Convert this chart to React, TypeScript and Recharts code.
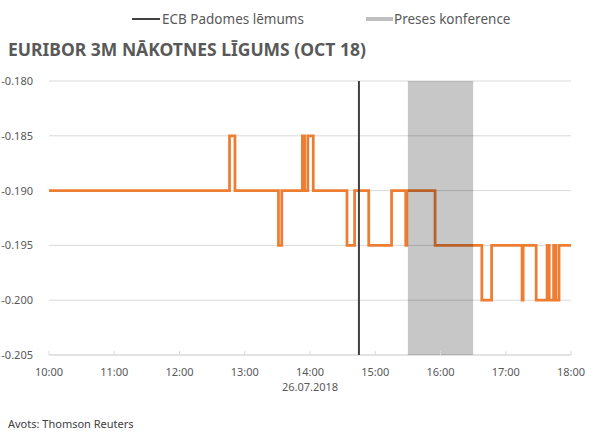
import {
  CartesianGrid,
  Line,
  LineChart,
  ReferenceArea,
  ReferenceLine,
  XAxis,
  YAxis,
} from "recharts";

// minutes after 10:00, value at that moment (step series)
const minutes = [
  0, 166, 171, 211, 214, 233, 235, 238, 243, 274, 281, 294, 315, 328, 329,
  355, 398, 407, 435, 436, 448, 458, 460, 464, 466, 469, 480,
];
const prices = [
  -0.19, -0.185, -0.19, -0.195, -0.19, -0.185, -0.19, -0.185, -0.19, -0.195,
  -0.19, -0.195, -0.19, -0.195, -0.19, -0.195, -0.2, -0.195, -0.2, -0.195,
  -0.2, -0.195, -0.2, -0.195, -0.2, -0.195, -0.195,
];

const xTicks = [0, 60, 120, 180, 240, 300, 360, 420, 480];
const yTicks = [-0.205, -0.2, -0.195, -0.19, -0.185, -0.18];

const ecbDecision = 285; // 14:45
const pressStart = 330; // 15:30
const pressEnd = 390; // 16:30

const rows = minutes.map((m, i) => ({ t: m, v: prices[i] }));

const FONT = "'Noto Sans', sans-serif";
const LABEL = "#595959";

const fmtTime = (m: number) => `${10 + Math.floor(m / 60)}:00`;

function TimeTick(props: any) {
  const { x, y, payload } = props;
  return (
    <g>
      <line x1={x} x2={x} y1={y - 4} y2={y} stroke="#d9d9d9" />
      <text x={x} y={y + 21} textAnchor="middle" fontSize={11} fill={LABEL} fontFamily={FONT}>
        {fmtTime(payload.value)}
      </text>
      {payload.value === 240 && (
        <text x={x} y={y + 36} textAnchor="middle" fontSize={11} fill={LABEL} fontFamily={FONT}>
          26.07.2018
        </text>
      )}
    </g>
  );
}

export default function App() {
  return (
    <div
      style={{
        position: "absolute",
        left: 0,
        top: 0,
        width: 595,
        height: 437,
        background: "#fff",
        fontFamily: FONT,
      }}
    >
      <div style={{ position: "absolute", top: 10, left: 0, width: 595, height: 20, fontSize: 13.5, color: LABEL }}>
        <div style={{ position: "absolute", left: 132, top: 8, width: 28, height: 2, background: "#404040" }} />
        <div style={{ position: "absolute", left: 162, top: 0 }}>ECB Padomes lēmums</div>
        <div style={{ position: "absolute", left: 366, top: 7, width: 27, height: 4, background: "#bfbfbf" }} />
        <div style={{ position: "absolute", left: 394, top: 0 }}>Preses konference</div>
      </div>
      <div
        style={{
          position: "absolute",
          left: 8,
          top: 37,
          fontSize: 17.5,
          fontWeight: 700,
          color: LABEL,
          whiteSpace: "nowrap",
        }}
      >
        EURIBOR 3M NĀKOTNES LĪGUMS (OCT 18)
      </div>
      <div style={{ position: "absolute", left: 8, top: 416, fontSize: 11, color: "#404040" }}>
        Avots: Thomson Reuters
      </div>
      <div style={{ position: "absolute", left: 0, top: 0 }}>
        <LineChart
          width={595}
          height={437}
          data={rows}
          margin={{ top: 81, right: 24, left: 0, bottom: 52 }}
        >
          <CartesianGrid vertical={false} stroke="#d9d9d9" />
          <XAxis
            dataKey="t"
            type="number"
            domain={[0, 480]}
            ticks={xTicks}
            stroke="#d9d9d9"
            tickLine={false}
            tickSize={0}
            tickMargin={0}
            height={30}
            tick={<TimeTick />}
            interval={0}
          />
          <YAxis
            type="number"
            domain={[-0.205, -0.18]}
            ticks={yTicks}
            width={49}
            axisLine={false}
            tickLine={false}
            tickMargin={10}
            tickFormatter={(v: number) => v.toFixed(3)}
            tick={{ fontSize: 11, fill: LABEL, fontFamily: FONT }}
          />
          <Line
            type="stepAfter"
            dataKey="v"
            stroke="#ed7d31"
            strokeWidth={2.75}
            dot={false}
            isAnimationActive={false}
          />
          <ReferenceArea
            x1={pressStart}
            x2={pressEnd}
            fill="#000"
            fillOpacity={0.22}
            stroke="none"
            zIndex={500}
          />
          <ReferenceLine x={ecbDecision} stroke="#404040" strokeWidth={2} zIndex={600} />
        </LineChart>
      </div>
    </div>
  );
}
